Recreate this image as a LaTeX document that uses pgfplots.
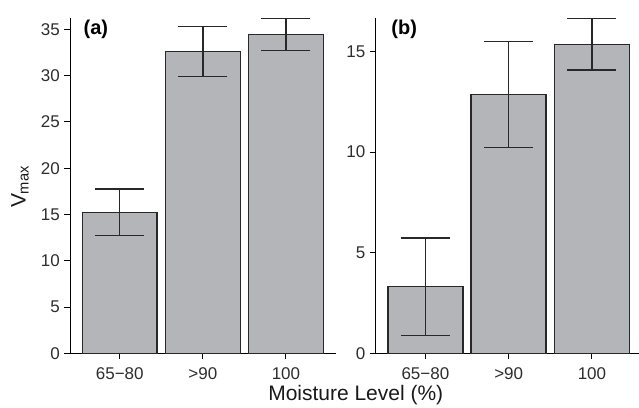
\documentclass[border=0pt]{standalone}
\usepackage{pgfplots}
\pgfplotsset{compat=1.18}
\usepackage{pgfplotstable}
\usepackage{fontspec}
\setmainfont{Liberation Sans}

\definecolor{barfill}{RGB}{180,181,185}
\definecolor{edge}{RGB}{40,40,40}
\definecolor{ticktext}{RGB}{45,45,45}

% mean and error (symmetric) for each moisture level
\pgfplotstableread{
x y err
0 15.23 2.50
1 32.60 2.70
2 34.45 1.70
}\panelA
\pgfplotstableread{
x y err
0 3.31 2.42
1 12.87 2.63
2 15.36 1.29
}\panelB

\pgfplotsset{
  panel/.style={
    scale only axis,
    anchor=south west,
    axis x line=bottom, axis y line=left,
    axis line style={-, line width=0.9pt, black},
    tick align=outside,
    major tick length=5.5pt,
    tick style={line width=0.9pt, black},
    xtick={0,1,2},
    xticklabels={65−80,>90,100},
    ymin=0, enlargelimits=false,
    ybar, bar width=0.9, bar shift=0pt,
    ticklabel style={font=\fontsize{17}{20}\selectfont, text=ticktext, inner sep=0pt},
    yticklabel style={xshift=-4.5pt},
    xticklabel style={yshift=-9pt},
    /pgf/number format/assume math mode=true,
    clip=false,
  },
  bars/.style={fill=barfill, draw=edge, line width=1.4pt,
    error bars/.cd, y dir=both, y explicit,
    error mark=|,
    error bar style={line width=1.4pt, edge},
    error mark options={mark size=24.5pt, line width=1.4pt, edge}},
}

\begin{document}
\begin{tikzpicture}[x=1pt,y=1pt]
\path (0,0) rectangle (639,-403);

\begin{axis}[panel, at={(70pt,-353.5pt)}, width=266pt, height=335.2pt,
  xmin=-0.6, xmax=2.6, ymax=36.2, ytick={0,5,...,35}]
\addplot[bars] table[x=x, y=y, y error=err] {\panelA};
\end{axis}

\begin{axis}[panel, at={(375.7pt,-353.5pt)}, width=263.3pt, height=335.2pt,
  xmin=-0.6, xmax=2.56, ymax=16.65, ytick={0,5,10,15}]
\addplot[bars] table[x=x, y=y, y error=err] {\panelB};
\end{axis}

\node[font=\bfseries\fontsize{20}{24}\selectfont] at (96,-29.5) {(a)};
\node[font=\bfseries\fontsize{20}{24}\selectfont] at (404.5,-29.5) {(b)};
\node[rotate=90, font=\fontsize{21}{25}\selectfont, text=black!90] at (20,-187) {V\textsubscript{max}};
\node[anchor=base, font=\fontsize{21}{25}\selectfont, text=black!90] at (356,-400.5) {Moisture Level (\%)};
\end{tikzpicture}
\end{document}
